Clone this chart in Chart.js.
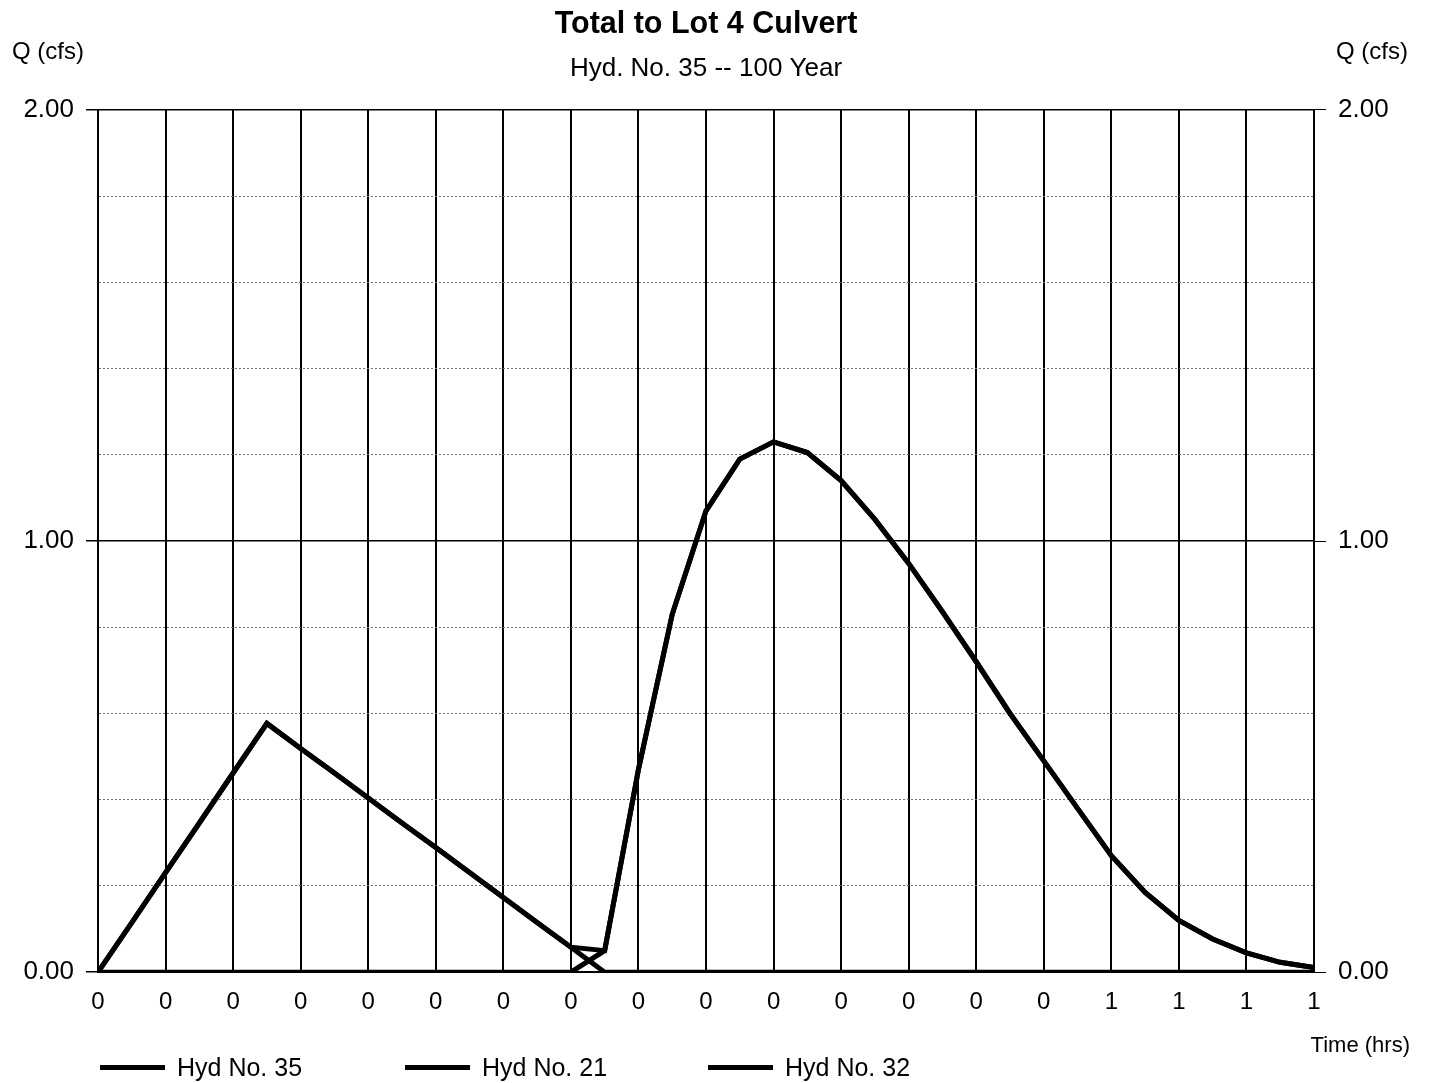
<!DOCTYPE html>
<html>
<head>
<meta charset="utf-8">
<script src="https://cdn.jsdelivr.net/npm/chart.js@4.4.1/dist/chart.umd.min.js"></script>
<style>
  html, body { margin:0; padding:0; background:#fff; }
  #wrap { position:relative; width:1453px; height:1083px; font-family:"Liberation Sans", Arial, sans-serif; }
  #legend { position:absolute; left:0; top:1052px; height:30px; width:1000px; }
  .lg { position:absolute; top:0; height:30px; display:flex; align-items:center; font-size:25px; color:#000; }
  .lg i { display:inline-block; width:65px; height:5px; background:#000; margin-right:12px; }
</style>
</head>
<body>
<div id="wrap">
  <canvas id="hydChart" width="1453" height="1083"></canvas>
  <div id="legend">
    <div class="lg" style="left:100px"><i></i>Hyd No. 35</div>
    <div class="lg" style="left:405px"><i></i>Hyd No. 21</div>
    <div class="lg" style="left:708px"><i></i>Hyd No. 32</div>
  </div>
</div>
<script>
// time in minutes (axis shows hours, rounded)
const timeMin = [0,1,2,3,4,5,6,7,8,9,10,11,12,13,14,15,16,17,18,19,20,21,22,23,24,25,26,27,28,29,30,31,32,33,34,35,36];

// flows in cfs
const hyd35 = [0,0.115,0.231,0.346,0.462,0.577,0.519,0.462,0.404,0.346,0.289,0.231,0.173,0.115,0.058,0.05,0.47,0.83,1.07,1.19,1.23,1.205,1.14,1.05,0.948,0.836,0.72,0.60,0.49,0.38,0.27,0.185,0.12,0.077,0.045,0.023,0.011];
const hyd21 = [0,0.115,0.231,0.346,0.462,0.577,0.519,0.462,0.404,0.346,0.289,0.231,0.173,0.115,0.058,0,0,0,0,0,0,0,0,0,0,0,0,0,0,0,0,0,0,0,0,0,0];
const hyd32 = [0,0,0,0,0,0,0,0,0,0,0,0,0,0,0,0.05,0.47,0.83,1.07,1.19,1.23,1.205,1.14,1.05,0.948,0.836,0.72,0.60,0.49,0.38,0.27,0.185,0.12,0.077,0.045,0.023,0.011];

const seriesNames = ['Hyd No. 35', 'Hyd No. 21', 'Hyd No. 32'];
const yTickLabels = ['0.00', '1.00', '2.00'];

const FONT = '"Liberation Sans", Arial, sans-serif';
Chart.defaults.font.family = FONT;
Chart.defaults.color = '#000';

const pts = arr => arr.map((v, i) => ({ x: timeMin[i], y: v }));
const isMajor = v => Math.abs(v - Math.round(v)) < 1e-6;

// axis unit captions ("Q (cfs)" and "Time (hrs)")
const unitLabels = {
  id: 'unitLabels',
  afterDraw(chart) {
    const c = chart.ctx;
    c.save();
    c.fillStyle = '#000';
    c.font = '24px ' + FONT;
    c.textBaseline = 'middle';
    c.textAlign = 'left';
    c.fillText('Q (cfs)', 12, 52);
    c.fillText('Q (cfs)', 1336, 52);
    c.font = '22px ' + FONT;
    c.textAlign = 'right';
    c.fillText('Time (hrs)', 1410, 1046);
    c.restore();
  }
};

const yTicks = {
  stepSize:0.2, padding:12, font:{ size:26 }, color:'#000',
  callback: v => isMajor(v) ? yTickLabels[Math.round(v)] : ''
};

new Chart(document.getElementById('hydChart'), {
  type: 'line',
  data: {
    datasets: [
      { label: seriesNames[0], data: pts(hyd35), borderColor:'#000', borderWidth:5, pointRadius:0, tension:0 },
      { label: seriesNames[1], data: pts(hyd21), borderColor:'#000', borderWidth:5, pointRadius:0, tension:0 },
      { label: seriesNames[2], data: pts(hyd32), borderColor:'#000', borderWidth:5, pointRadius:0, tension:0 },
    ]
  },
  options: {
    responsive:false, animation:false,
    layout:{ padding:{ top:0, left:0, right:0, bottom:50 } },
    plugins:{
      legend:{ display:false },
      tooltip:{ enabled:false },
      title:{ display:true, fullSize:false, text:'Total to Lot 4 Culvert', color:'#000',
        font:{ size:30.5, weight:'bold', lineHeight:1.2 }, padding:{ top:6, bottom:11 } },
      subtitle:{ display:true, fullSize:false, text:'Hyd. No. 35 -- 100 Year', color:'#000',
        font:{ size:26, lineHeight:1.2 }, padding:{ top:0, bottom:25 } }
    },
    scales:{
      x:{ type:'linear', min:0, max:36,
        ticks:{ stepSize:2, padding:16, font:{ size:24 }, color:'#000', maxRotation:0,
          callback: v => String(Math.round(v / 60)) },
        grid:{ color:'#000', lineWidth:2, drawTicks:false },
        border:{ color:'#000', width:2 } },
      y:{ position:'left', min:0, max:2,
        afterFit: s => { s.width = 98; },
        ticks: yTicks,
        grid:{ tickLength:12, lineWidth: c => isMajor(c.tick.value) ? 1.5 : 1,
          color: c => isMajor(c.tick.value) ? '#000' : '#6e6e6e',
          tickColor: c => isMajor(c.tick.value) ? '#000' : 'rgba(0,0,0,0)' },
        border:{ color:'#000', width:2, dash: c => (c.tick && !isMajor(c.tick.value)) ? [2,2] : [] } },
      y2:{ position:'right', min:0, max:2,
        afterFit: s => { s.width = 139; },
        ticks: yTicks,
        grid:{ drawOnChartArea:false, tickLength:12,
          color: c => isMajor(c.tick.value) ? '#000' : 'rgba(0,0,0,0)' },
        border:{ display:false } }
    }
  },
  plugins:[unitLabels]
});
</script>
</body>
</html>
